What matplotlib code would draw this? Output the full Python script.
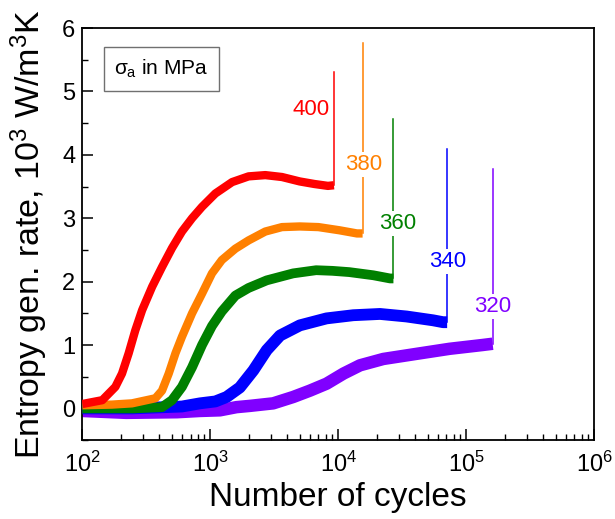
import matplotlib
matplotlib.use("Agg")
import matplotlib.pyplot as plt
from matplotlib.patches import Rectangle
from matplotlib.ticker import LogLocator, MultipleLocator, NullFormatter

plt.rcParams['font.family'] = ['Liberation Sans', 'DejaVu Sans']
plt.rcParams['mathtext.fontset'] = 'custom'
plt.rcParams['mathtext.rm'] = 'Liberation Sans'
plt.rcParams['mathtext.it'] = 'Liberation Sans'
plt.rcParams['mathtext.bf'] = 'Liberation Sans:bold'

# ---------------- data ----------------
stress_labels = ["400", "380", "360", "340", "320"]
colors = ["#ff0000", "#ff8000", "#008000", "#0000ff", "#8000ff"]

n_400 = [100, 143, 181, 204, 230, 259, 293, 351, 419, 502, 600, 720, 861, 1095, 1480,
         1990, 2690, 3630, 5000, 6500, 8300, 9250]
y_400 = [0.07, 0.13, 0.34, 0.55, 0.87, 1.23, 1.55, 1.92, 2.23, 2.53, 2.79, 3.0, 3.18, 3.39,
         3.57, 3.66, 3.68, 3.65, 3.58, 3.54, 3.51, 3.52]

n_380 = [100, 170, 244, 372, 419, 473, 534, 600, 720, 861, 1030, 1230, 1570, 1990, 2690,
         3630, 5000, 7000, 10200, 14000, 15500]
y_380 = [0.05, 0.06, 0.08, 0.16, 0.28, 0.55, 0.87, 1.13, 1.5, 1.81, 2.13, 2.34, 2.52, 2.65,
         2.79, 2.86, 2.87, 2.86, 2.81, 2.76, 2.76]

n_360 = [100, 250, 419, 502, 600, 720, 861, 1030, 1230, 1570, 1990, 2760, 4440, 6720,
         9000, 12200, 18800, 25400, 27000]
y_360 = [0.0, 0.0, 0.02, 0.13, 0.34, 0.65, 1.0, 1.3, 1.53, 1.78, 1.9, 2.02, 2.13, 2.18,
         2.17, 2.15, 2.1, 2.05, 2.05]

n_340 = [100, 244, 600, 830, 1095, 1340, 1700, 2170, 2760, 3510, 5010, 8100, 13100,
         21200, 34200, 55000, 66000, 71000]
y_340 = [0.0, 0.0, 0.03, 0.08, 0.11, 0.18, 0.33, 0.6, 0.92, 1.15, 1.31, 1.42, 1.47,
         1.49, 1.45, 1.39, 1.36, 1.36]

n_320 = [100, 220, 550, 830, 1190, 1600, 2040, 3100, 4440, 6000, 8100, 11000, 14800,
         22500, 40700, 74000, 134000, 161000]
y_320 = [-0.04, -0.07, -0.06, -0.04, -0.03, 0.02, 0.04, 0.08, 0.18, 0.28, 0.39, 0.55,
         0.68, 0.78, 0.86, 0.94, 1.0, 1.02]

series_n = [n_400, n_380, n_360, n_340, n_320]
series_y = [y_400, y_380, y_360, y_340, y_320]

# top value of the failure spike at the last cycle of each series
spike_top = [5.3, 5.77, 4.56, 4.09, 3.77]

# label positions (cycles, value)
label_n = [6120, 15800, 29200, 72000, 162000]
label_y = [4.72, 3.84, 2.92, 2.31, 1.61]

band_widths = [6, 6, 7, 8.5, 9]

x_ticks = [1e2, 1e3, 1e4, 1e5, 1e6]
y_ticks = [0, 1, 2, 3, 4, 5, 6]

# ---------------- plot ----------------
fig = plt.figure(figsize=(6.15, 5.19), dpi=100)
ax = fig.add_axes([0.134, 0.152, 0.832, 0.794])

order = [4, 3, 2, 1, 0]
for k, i in enumerate(order):
    ax.plot(series_n[i], series_y[i], color=colors[i], lw=band_widths[i],
            solid_capstyle='butt', solid_joinstyle='round', zorder=2 + k)
    ax.plot([series_n[i][-1], series_n[i][-1]], [series_y[i][-1], spike_top[i]],
            color=colors[i], lw=1.1, zorder=2 + k)

for i in range(5):
    ax.text(label_n[i], label_y[i], stress_labels[i], color=colors[i], fontsize=16,
            ha='center', va='center', zorder=20,
            bbox=dict(facecolor='white', edgecolor='none', pad=1.5))

ax.set_xscale('log')
ax.set_xlim(1e2, 1e6)
ax.set_ylim(-0.5, 6)
ax.set_xticks(x_ticks)
ax.set_yticks(y_ticks)
ax.xaxis.set_minor_locator(LogLocator(base=10, subs=range(2, 10), numticks=20))
ax.xaxis.set_minor_formatter(NullFormatter())
ax.yaxis.set_minor_locator(MultipleLocator(0.5))

ax.tick_params(which='both', direction='in', top=False, right=False, labelsize=17)
ax.tick_params(which='major', length=8, width=1.1)
ax.tick_params(which='minor', length=4.5, width=1.0)
ax.tick_params(axis='x', which='major', pad=8)
ax.tick_params(axis='y', which='major', pad=5)
for s in ax.spines.values():
    s.set_linewidth(1.3)

ax.set_xlabel("Number of cycles", fontsize=24, labelpad=4)
ax.set_ylabel(r"Entropy gen. rate, 10$^3$ W/m$^3$K", fontsize=24.5, labelpad=9)

rect = Rectangle((0.043, 0.847), 0.223, 0.107, transform=ax.transAxes,
                 facecolor='white', edgecolor='#707070', lw=1.0, zorder=25)
ax.add_patch(rect)
ax.text(0.1545, 0.9, r"$\sigma_a$ in MPa", transform=ax.transAxes, fontsize=15,
        ha='center', va='center', zorder=26)

fig.savefig("out.png", dpi=100)
